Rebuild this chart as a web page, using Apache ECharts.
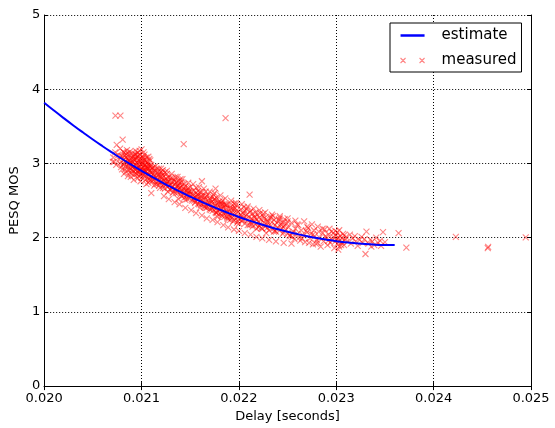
<!DOCTYPE html>
<html>
<head>
<meta charset="utf-8">
<script src="https://cdn.jsdelivr.net/npm/echarts@6/dist/echarts.min.js"></script>
<style>html,body{margin:0;padding:0;background:#fff}#c{width:555px;height:428px}</style>
</head>
<body>
<div id="c"></div>
<script>
var xTicks = ['0.020','0.021','0.022','0.023','0.024','0.025'];
var yTicks = [0,1,2,3,4,5];

var estimateDelay = [0.0200,0.0201,0.0202,0.0203,0.0204,0.0205,0.0206,0.0207,0.0208,0.0209,0.0210,0.0211,0.0212,0.0213,0.0214,0.0215,0.0216,0.0217,0.0218,0.0219,0.0220,0.0221,0.0222,0.0223,0.0224,0.0225,0.0226,0.0227,0.0228,0.0229,0.0230,0.0231,0.0232,0.0233,0.0234,0.0235,0.0236];
var estimateMos   = [3.818,3.713,3.611,3.512,3.416,3.322,3.232,3.145,3.060,2.979,2.900,2.825,2.752,2.683,2.616,2.553,2.492,2.434,2.380,2.328,2.279,2.233,2.190,2.150,2.113,2.079,2.048,2.020,1.995,1.973,1.953,1.937,1.924,1.913,1.906,1.902,1.900];

var measuredOutliers = [[0.020732,3.645],[0.020783,3.645],[0.020806,3.32],[0.020745,3.25],[0.020705,3.02],[0.021433,3.26],[0.021863,3.61],[0.02211,2.58],[0.02162,2.76],[0.02176,2.66],[0.0211,2.60],[0.024228,2.01],[0.024556,1.86],[0.02456,1.875],[0.024946,2.004],[0.02364,2.06],[0.02372,1.865]];

var measuredHead = [[0.02071,3.08],[0.02073,3.15],[0.02074,2.98],[0.02076,3.12],[0.02077,3.05],[0.02078,3.20],[0.02079,2.95],[0.02072,3.02],
[0.02080,3.10],[0.02081,2.98],[0.02082,3.05],[0.02082,3.15],[0.02083,2.92],[0.02084,3.08],[0.02085,3.00],[0.02085,3.18],[0.02086,2.95],[0.02087,3.12],[0.02088,3.03],[0.02088,2.88],[0.02089,3.07],[0.02090,2.97],[0.02090,3.14],[0.02091,2.90],[0.02091,3.02],[0.02092,3.09],[0.02093,2.85],[0.02093,2.99],[0.02094,3.05],[0.02094,3.17],[0.02095,2.93],[0.02095,3.01],[0.02096,2.80],[0.02096,3.10],[0.02097,2.96],[0.02097,3.04],[0.02098,2.89],[0.02098,3.12],[0.02099,2.99],[0.02099,2.76],[0.02100,3.06],[0.02100,2.93],[0.02100,3.19],[0.02101,2.87],[0.02101,3.00],[0.02102,2.95],[0.02102,3.08],[0.02103,2.82],[0.02103,2.98],[0.02104,3.03],[0.02104,2.90],[0.02105,2.72],[0.02105,2.96],[0.02106,3.01],[0.02106,2.86],[0.02107,2.93],[0.02107,3.09],[0.02108,2.79],[0.02108,2.97],[0.02109,2.88],[0.02109,3.04],[0.02110,2.92],[0.02110,2.83],
[0.02084,2.96],[0.02087,2.99],[0.02089,2.93],[0.02092,2.96],[0.02094,2.91],[0.02096,3.00],[0.02098,2.95],[0.02101,2.94],[0.02103,2.91],[0.02105,2.89],[0.02107,2.85],[0.02109,2.95],[0.02086,3.06],[0.02091,3.10],[0.02097,2.87],[0.02102,2.84],[0.02104,2.98],[0.02106,2.93],[0.02108,2.90],[0.02099,3.02],[0.02093,3.04],[0.02095,3.08],[0.02083,3.02],[0.02088,3.00],[0.02090,2.91],[0.02100,2.99],[0.02103,3.12]];

var measuredCore = [[0.02078,3.00],[0.02079,3.10],[0.02080,2.92],[0.02081,3.16],[0.02082,2.86],[0.02083,3.11],[0.02084,2.89],[0.02085,3.06],[0.02086,2.83],[0.02087,3.04],[0.02088,3.16],[0.02089,2.82],[0.02090,3.03],[0.02091,2.95],[0.02092,2.78],[0.02093,3.13],[0.02094,2.87],[0.02095,2.97],[0.02096,3.15],[0.02097,2.83],[0.02098,3.06],[0.02099,2.92],[0.02100,2.81],[0.02101,3.10],[0.02102,2.90],[0.02103,3.05],[0.02104,2.78],[0.02105,3.02],[0.02106,2.95],[0.02107,2.74],[0.02108,3.06],[0.02109,2.81],[0.02110,2.98],[0.02111,2.76],[0.02112,2.86],[0.02113,2.70],[0.02114,2.96],[0.02115,2.81],[0.02116,2.72],[0.02117,2.84],[0.02118,2.93],[0.02119,2.67],[0.02120,2.83],[0.02121,2.76],[0.02122,2.91],
[0.02082,3.00],[0.02086,3.14],[0.02089,2.97],[0.02092,3.06],[0.02095,2.86],[0.02097,3.11],[0.02099,2.85],[0.02101,3.04],[0.02103,2.87],[0.02105,3.08],[0.02107,2.99],[0.02109,2.77],[0.02111,2.94],[0.02098,3.17],[0.02094,3.12],[0.02090,2.86],[0.02087,2.91],[0.02104,2.94],[0.02106,2.80],[0.02108,2.85],[0.02100,2.89],[0.02096,2.90],[0.02102,3.15],[0.02093,2.92],[0.02084,3.13]];

var measuredMid = [[0.02111,2.88],[0.02112,2.78],[0.02112,2.95],[0.02113,2.83],[0.02114,2.90],[0.02114,2.72],[0.02115,2.85],[0.02116,2.80],[0.02116,2.93],[0.02117,2.76],[0.02118,2.86],[0.02118,2.70],[0.02119,2.82],[0.02120,2.89],[0.02120,2.75],[0.02121,2.80],[0.02122,2.70],[0.02122,2.84],[0.02123,2.77],[0.02124,2.88],[0.02124,2.66],[0.02125,2.79],[0.02126,2.73],[0.02127,2.82],[0.02127,2.68],[0.02128,2.76],[0.02129,2.71],[0.02130,2.80],[0.02130,2.64],[0.02131,2.74],[0.02132,2.69],[0.02133,2.78],[0.02133,2.62],[0.02134,2.72],[0.02135,2.66],[0.02136,2.75],[0.02137,2.60],[0.02137,2.70],[0.02138,2.65],[0.02139,2.73],[0.02140,2.58],[0.02140,2.68],[0.02141,2.63],[0.02142,2.71],[0.02143,2.57],[0.02143,2.66],[0.02144,2.61],[0.02145,2.69],[0.02146,2.55],[0.02146,2.64],[0.02147,2.59],[0.02148,2.67],[0.02149,2.53],[0.02149,2.62],[0.02150,2.58],
[0.02113,2.91],[0.02115,2.76],[0.02117,2.89],[0.02119,2.74],[0.02121,2.87],[0.02123,2.83],[0.02125,2.71],[0.02128,2.81],[0.02131,2.67],[0.02134,2.76],[0.02136,2.63],[0.02139,2.67],[0.02141,2.75],[0.02144,2.65],[0.02147,2.63],[0.02135,2.82],[0.02138,2.52],
[0.02151,2.62],[0.02152,2.50],[0.02153,2.57],[0.02154,2.64],[0.02155,2.48],[0.02155,2.55],[0.02156,2.60],[0.02157,2.52],[0.02158,2.46],[0.02158,2.58],[0.02159,2.53],[0.02160,2.49],[0.02160,2.61],[0.02161,2.44],[0.02162,2.55],[0.02163,2.50],[0.02164,2.42],[0.02164,2.57],[0.02165,2.47],[0.02166,2.52],[0.02167,2.40],[0.02167,2.56],[0.02168,2.45],[0.02169,2.50],[0.02170,2.38],[0.02170,2.53],[0.02171,2.43],[0.02172,2.48],[0.02173,2.36],[0.02173,2.55],[0.02174,2.41],[0.02175,2.46],[0.02176,2.34],[0.02176,2.50],[0.02177,2.39],[0.02178,2.44],[0.02179,2.31],[0.02179,2.48],[0.02180,2.37],[0.02181,2.42],[0.02182,2.30],[0.02182,2.47],[0.02183,2.35],[0.02184,2.40],[0.02185,2.28],[0.02185,2.45],[0.02186,2.33],[0.02187,2.38],[0.02188,2.26],[0.02188,2.43],[0.02189,2.31],[0.02190,2.36],[0.02191,2.24],[0.02191,2.41],[0.02192,2.29],[0.02193,2.34],[0.02194,2.22],[0.02195,2.38],[0.02196,2.27],[0.02197,2.32],[0.02198,2.20],[0.02199,2.35],[0.02200,2.25],
[0.02153,2.53],[0.02157,2.58],[0.02161,2.51],[0.02165,2.54],[0.02169,2.44],[0.02172,2.40],[0.02175,2.52],[0.02178,2.36],[0.02181,2.46],[0.02184,2.33],[0.02187,2.44],[0.02190,2.30],[0.02193,2.27],[0.02196,2.40],[0.02199,2.28],[0.02166,2.62],[0.02174,2.58],[0.02183,2.50],[0.02192,2.46],[0.02197,2.44]];

var measuredBand = [[0.02123,2.72],[0.02126,2.86],[0.02129,2.65],[0.02132,2.80],[0.02135,2.60],[0.02138,2.76],[0.02141,2.56],[0.02144,2.72],[0.02147,2.52],[0.02150,2.68],[0.02152,2.58],[0.02154,2.50],[0.02156,2.67],[0.02159,2.45],[0.02162,2.61],[0.02165,2.41],[0.02168,2.58],[0.02171,2.37],[0.02174,2.51],[0.02177,2.33],[0.02180,2.49],[0.02183,2.29],[0.02186,2.44],[0.02189,2.25],[0.02192,2.39],[0.02195,2.23],[0.02198,2.37],[0.02200,2.19],
[0.02125,2.76],[0.02130,2.71],[0.02136,2.69],[0.02142,2.62],[0.02148,2.60],[0.02157,2.55],[0.02163,2.47],[0.02169,2.47],[0.02176,2.43],[0.02182,2.39],[0.02188,2.35],[0.02194,2.32],[0.02127,2.62],[0.02145,2.51],[0.02160,2.40],[0.02178,2.28],[0.02140,2.79],[0.02158,2.63],[0.02177,2.54],[0.02195,2.46],
[0.02204,2.24],[0.02208,2.39],[0.02213,2.18],[0.02217,2.34],[0.02221,2.16],[0.02225,2.32],[0.02229,2.13],[0.02233,2.28],[0.02237,2.09],[0.02241,2.25],[0.02245,2.05],[0.02250,2.22],[0.02255,2.01],[0.02260,2.18],[0.02265,1.99],[0.02270,2.15],[0.02276,2.04],[0.02281,1.93],[0.02286,2.12],[0.02292,1.96],[0.02297,2.06],[0.02303,2.10],[0.02305,1.90],[0.02308,2.03]];

var measuredSpread = [[0.02120,2.93],[0.02123,2.56],[0.02126,2.90],[0.02128,2.52],[0.02131,2.86],[0.02134,2.48],[0.02137,2.82],[0.02139,2.45],[0.02142,2.79],[0.02145,2.40],[0.02148,2.74],[0.02151,2.37],[0.02153,2.72],[0.02156,2.33],[0.02159,2.68],[0.02162,2.30],[0.02164,2.66],[0.02167,2.26],[0.02170,2.62],[0.02173,2.24],[0.02175,2.60],[0.02178,2.21],[0.02181,2.57],[0.02184,2.17],[0.02186,2.53],[0.02189,2.14],[0.02192,2.50],[0.02195,2.11],[0.02197,2.47],[0.02200,2.09],[0.02203,2.45],[0.02206,2.06],[0.02209,2.42],[0.02212,2.04],[0.02215,2.39],[0.02218,2.01],[0.02221,2.37],[0.02224,1.99],[0.02227,2.34],[0.02231,1.97],[0.02234,2.31],[0.02238,1.95],[0.02242,2.29],[0.02246,1.93],[0.02250,2.26],[0.02254,1.92],[0.02258,2.23],
[0.02122,2.67],[0.02127,2.76],[0.02132,2.60],[0.02138,2.69],[0.02144,2.54],[0.02149,2.63],[0.02155,2.47],[0.02161,2.56],[0.02166,2.40],[0.02171,2.51],[0.02177,2.34],[0.02183,2.45],[0.02188,2.28],[0.02194,2.39],[0.02199,2.22],[0.02205,2.32],[0.02211,2.17],[0.02216,2.27],[0.02223,2.13],[0.02229,2.21],[0.02236,2.08],[0.02244,2.17],[0.02252,2.03]];

var measuredTail = [[0.02201,2.30],[0.02202,2.38],[0.02203,2.22],[0.02204,2.33],[0.02205,2.27],[0.02206,2.19],[0.02206,2.36],[0.02207,2.25],[0.02208,2.31],[0.02209,2.17],[0.02210,2.28],[0.02211,2.34],[0.02212,2.21],[0.02213,2.26],[0.02214,2.15],[0.02214,2.32],[0.02215,2.23],[0.02216,2.29],[0.02217,2.18],[0.02218,2.25],[0.02219,2.31],[0.02220,2.14],[0.02220,2.22],[0.02221,2.27],[0.02222,2.19],[0.02223,2.24],[0.02224,2.12],[0.02225,2.29],[0.02226,2.20],[0.02227,2.15],[0.02228,2.25],[0.02229,2.18],[0.02230,2.22],[0.02231,2.10],[0.02232,2.27],[0.02233,2.16],[0.02234,2.21],[0.02235,2.12],[0.02236,2.24],[0.02237,2.17],[0.02238,2.08],[0.02239,2.20],[0.02240,2.14],[0.02241,2.23],[0.02242,2.10],[0.02243,2.18],[0.02244,2.13],[0.02245,2.21],[0.02246,2.07],[0.02247,2.16],[0.02248,2.11],[0.02249,2.19],[0.02250,2.05],
[0.02205,2.41],[0.02212,2.36],[0.02218,2.12],[0.02222,2.33],[0.02228,2.06],[0.02235,2.29],[0.02242,2.27],[0.02247,2.25],[0.02203,2.28],[0.02209,2.24],[0.02216,2.21],[0.02226,2.26],
[0.02251,2.14],[0.02253,2.02],[0.02254,2.20],[0.02256,2.08],[0.02257,1.98],[0.02258,2.12],[0.02260,2.05],[0.02261,2.17],[0.02263,1.96],[0.02264,2.10],[0.02266,2.03],[0.02267,2.22],[0.02268,1.94],[0.02270,2.07],[0.02271,2.13],[0.02273,1.99],[0.02274,2.05],[0.02276,1.91],[0.02277,2.10],[0.02278,2.02],[0.02280,1.97],[0.02281,2.15],[0.02283,2.00],[0.02284,1.88],[0.02286,2.06],[0.02287,1.95],[0.02288,2.11],[0.02290,1.99],[0.02291,1.90],[0.02292,2.04],[0.02294,1.93],[0.02295,2.08],[0.02296,1.97],[0.02297,2.01],[0.02298,1.86],[0.02299,1.95],[0.02300,2.03],[0.02300,1.98],[0.02301,1.92],[0.02301,2.07],[0.02302,2.00],[0.02302,1.84],[0.02303,1.96],[0.02304,2.02],[0.02305,1.93],[0.02306,1.99],[0.02307,2.05],[0.02308,1.90],[0.02309,1.97],[0.02310,2.01],
[0.02255,2.06],[0.02262,2.00],[0.02269,2.09],[0.02275,2.18],[0.02282,2.08],[0.02289,2.02],[0.02293,2.12],[0.02299,2.09],[0.02303,1.88],[0.02306,1.94],[0.02272,1.93],[0.02279,1.92],
[0.02312,1.95],[0.02314,2.04],[0.02315,1.92],[0.02317,1.99],[0.02319,2.02],[0.02320,1.95],[0.02322,1.89],[0.02324,1.97],[0.02326,2.01],[0.02327,1.93],[0.02329,1.98],[0.02331,2.08],[0.02330,1.78],[0.02333,1.92],[0.02335,1.97],[0.02337,1.95],[0.02339,1.90],[0.02341,2.00],[0.02343,1.93],[0.02345,1.96],[0.02348,2.075],[0.02350,1.94],[0.02346,1.89],[0.02336,1.88]];

var measured = measuredHead.concat(measuredCore, measuredMid, measuredBand, measuredSpread, measuredTail, measuredOutliers);
var estimate = estimateDelay.map(function (d, i) { return [d, estimateMos[i]]; });

var FONT = 'DejaVu Sans';
var chart = echarts.init(document.getElementById('c'), null, {renderer: 'canvas'});
var gridDash = {color: '#000', width: 1, type: [1, 2]};
var markerStyle = {color: 'rgba(0,0,0,0)', borderColor: 'rgba(255,0,0,0.6)', borderWidth: 1.1};
chart.setOption({
  animation: false,
  backgroundColor: '#fff',
  grid: {left: 39, right: 24, top: 15, bottom: 33},
  legend: {
    orient: 'vertical', left: 390, top: 23,
    padding: [5, 5, 4, 10],
    backgroundColor: '#fff', borderColor: '#000', borderWidth: 1, borderRadius: 0,
    itemWidth: 24, itemHeight: 14, itemGap: 10,
    textStyle: {fontFamily: FONT, fontSize: 15, color: '#000', padding: [0, 0, 0, 12]},
    data: [
      {name: 'estimate', icon: 'path://M0,0L24,0L24,2.5L0,2.5Z', itemStyle: {color: '#0000ff', borderWidth: 0}},
      {name: 'measured', icon: 'path://M0,3L5,8M5,3L0,8M19,3L24,8M24,3L19,8', itemStyle: markerStyle}
    ]
  },
  xAxis: [{
    type: 'value', min: 0.020, max: 0.025, interval: 0.001,
    name: 'Delay [seconds]', nameLocation: 'middle', nameGap: 23,
    nameTextStyle: {fontFamily: FONT, fontSize: 13, color: '#000'},
    axisLine: {show: true, lineStyle: {color: '#000', width: 1}},
    axisTick: {show: true, inside: true, length: 4, lineStyle: {color: '#000'}},
    axisLabel: {fontFamily: FONT, fontSize: 13, color: '#000', margin: 6,
      formatter: function (v) { return xTicks[Math.round((v - 0.020) * 1000)]; }},
    splitLine: {show: true, lineStyle: gridDash}
  }, {
    type: 'value', position: 'top', min: 0.020, max: 0.025, interval: 0.001,
    axisLine: {show: true, lineStyle: {color: '#000', width: 1}},
    axisTick: {show: true, inside: true, length: 4, lineStyle: {color: '#000'}},
    axisLabel: {show: false}, splitLine: {show: false}
  }],
  yAxis: [{
    type: 'value', min: 0, max: 5, interval: 1,
    name: 'PESQ MOS', nameLocation: 'middle', nameGap: 16, nameRotate: 90,
    nameTextStyle: {fontFamily: FONT, fontSize: 13, color: '#000'},
    axisLine: {show: true, lineStyle: {color: '#000', width: 1}},
    axisTick: {show: true, inside: true, length: 4, lineStyle: {color: '#000'}},
    axisLabel: {fontFamily: FONT, fontSize: 13, color: '#000', margin: 4,
      formatter: function (v) { return String(yTicks[Math.round(v)]); }},
    splitLine: {show: true, lineStyle: gridDash}
  }, {
    type: 'value', position: 'right', min: 0, max: 5, interval: 1,
    axisLine: {show: true, lineStyle: {color: '#000', width: 1}},
    axisTick: {show: true, inside: true, length: 4, lineStyle: {color: '#000'}},
    axisLabel: {show: false}, splitLine: {show: false}
  }],
  series: [{
    name: 'measured', type: 'scatter', data: measured, z: 2,
    symbol: 'path://M0,0L1,1M1,0L0,1', symbolSize: 6,
    itemStyle: markerStyle
  }, {
    name: 'estimate', type: 'line', data: estimate, smooth: true, z: 3,
    symbol: 'none', showSymbol: false,
    lineStyle: {color: '#0000ff', width: 2},
    itemStyle: {color: '#0000ff'}
  }]
});
</script>
</body>
</html>
